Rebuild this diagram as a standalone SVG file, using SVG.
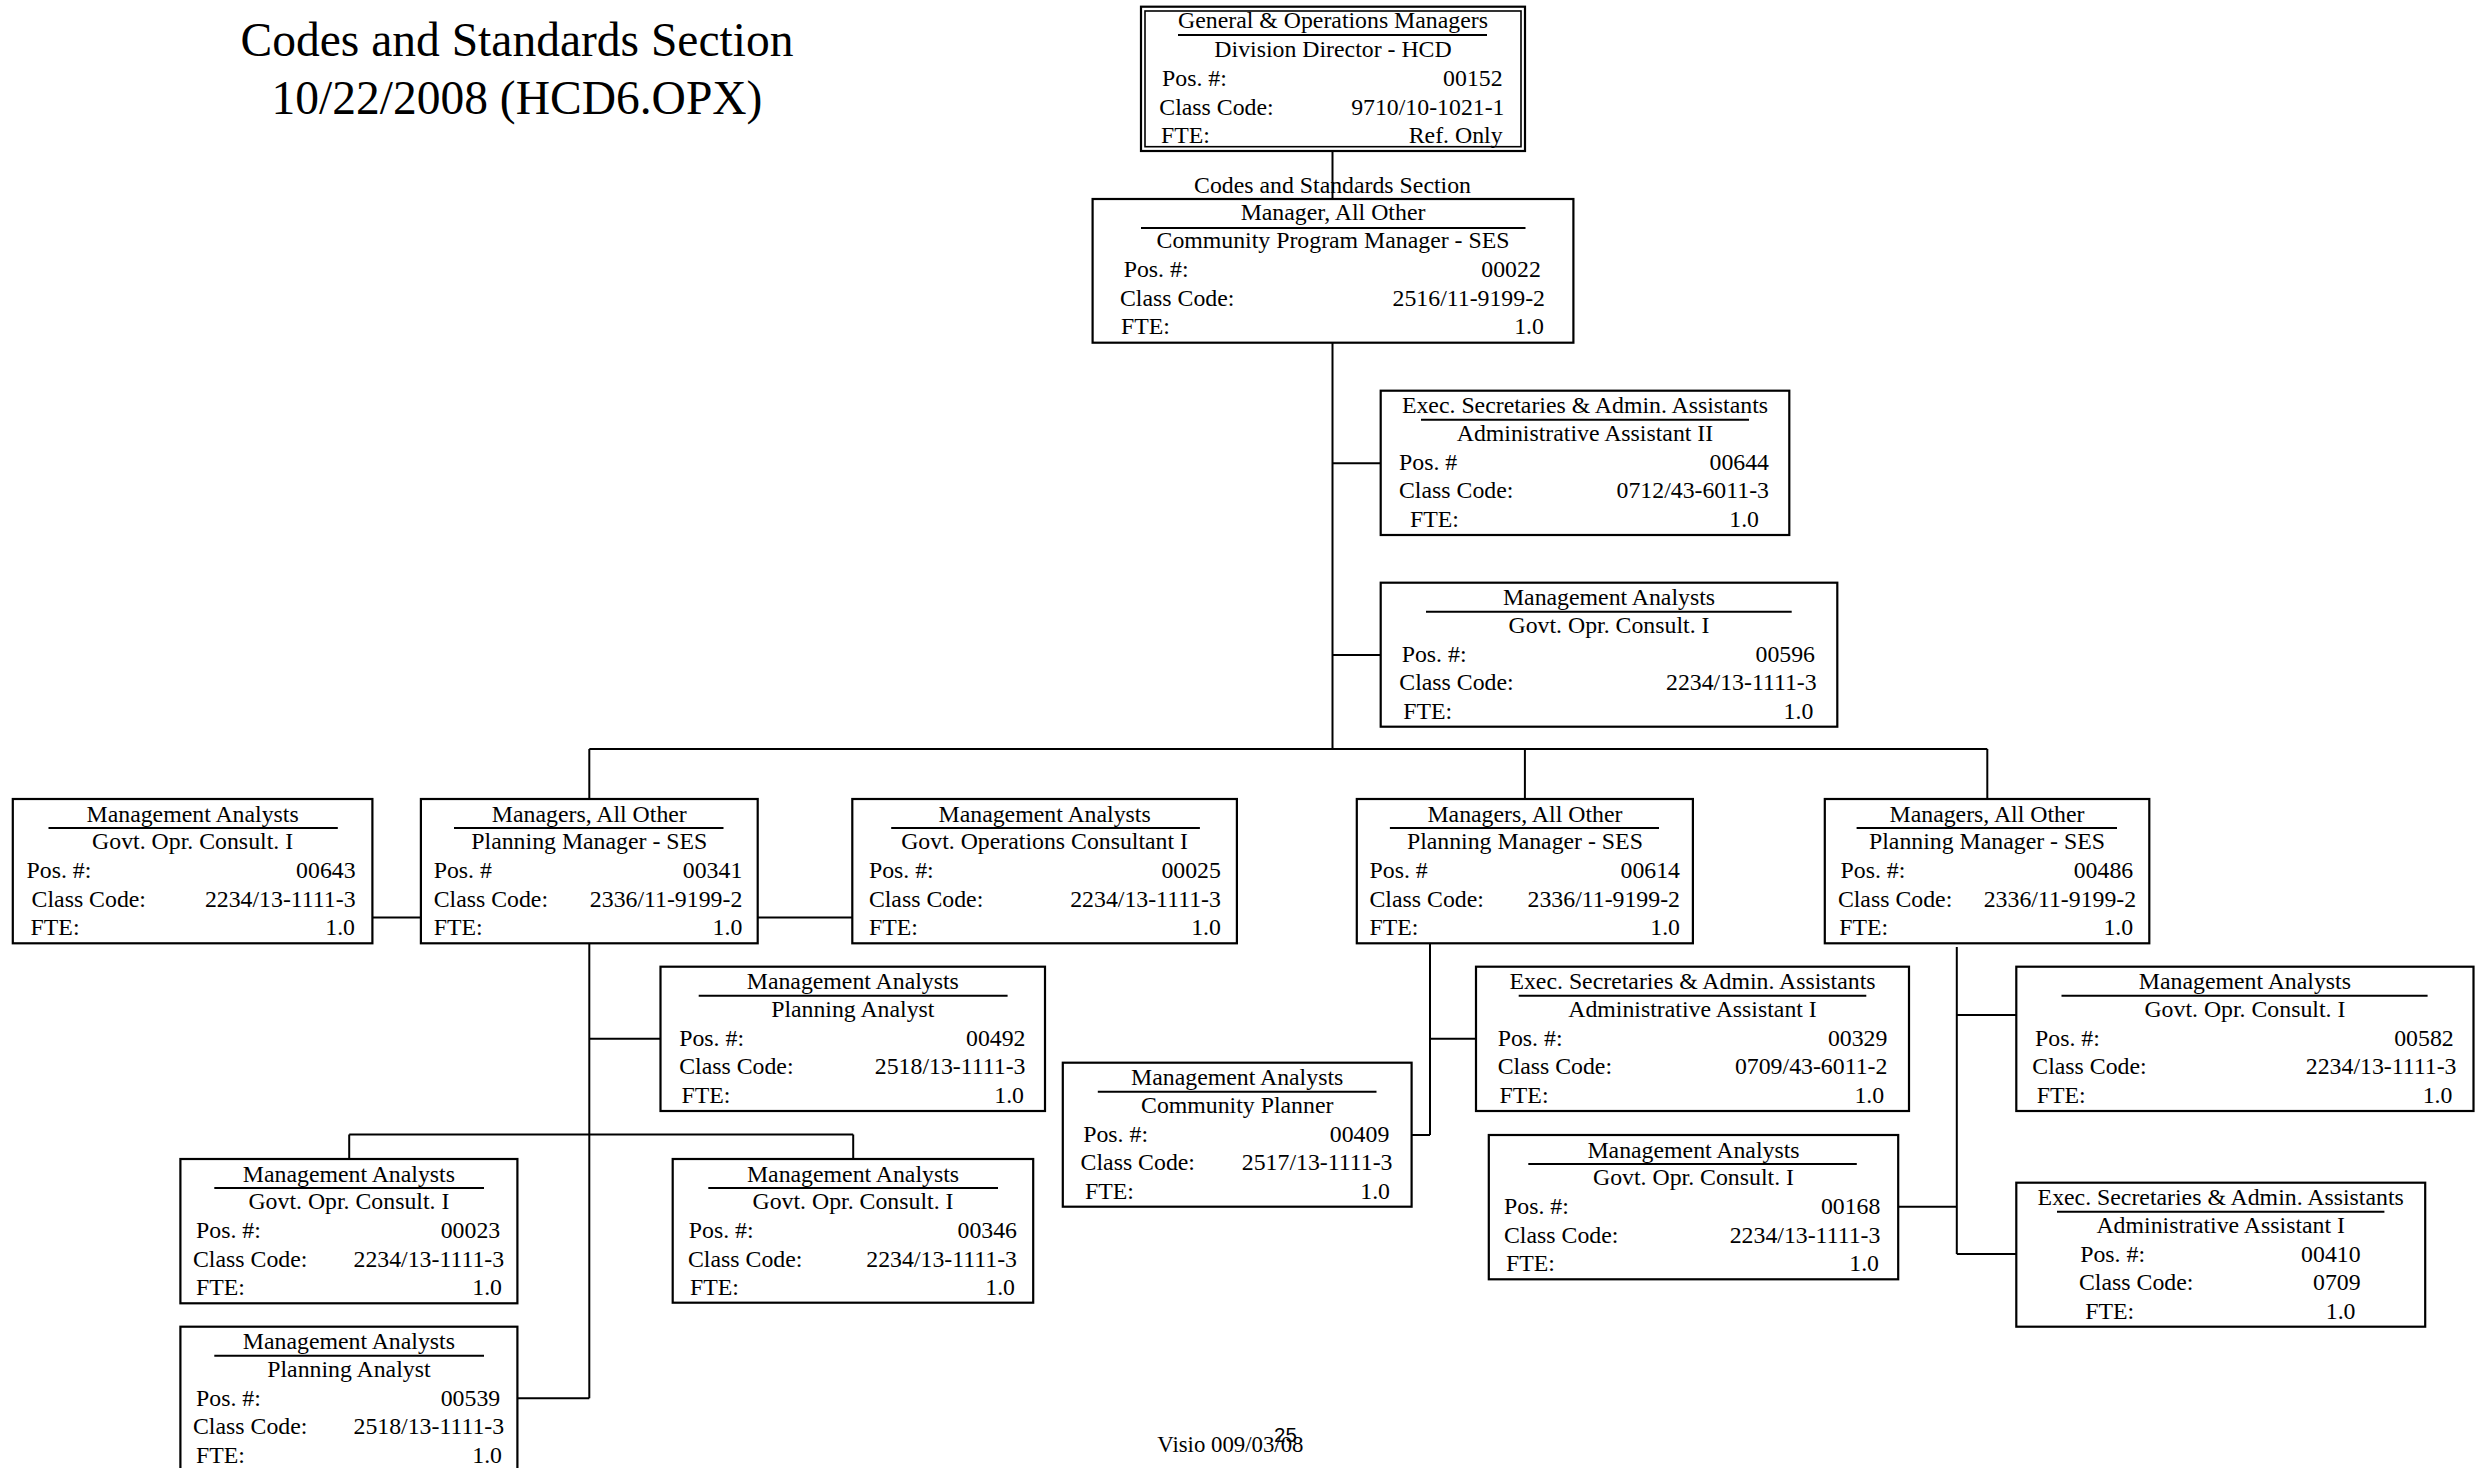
<svg xmlns="http://www.w3.org/2000/svg" width="2483" height="1468" viewBox="0 0 2483 1468">
<style>
  text { font-family: "Liberation Serif", "Times New Roman", serif; font-size: 23.8px; fill: #000; }
  .c { text-anchor: middle; }
  .e { text-anchor: end; }
  .box { fill: #fff; stroke: #000; stroke-width: 2.2; }
  .ul { stroke: #000; stroke-width: 2; }
  .wire { stroke: #000; stroke-width: 2; fill: none; }
  .head { font-size: 47.5px; }
  .pg { font-family: "Liberation Sans", Arial, sans-serif; font-size: 20.5px; }
</style>
<rect width="2483" height="1468" fill="#fff"/>

<!-- heading -->
<g id="heading">
  <text class="head c" x="517" y="56">Codes and Standards Section</text>
  <text class="head c" x="517" y="114">10/22/2008 (HCD6.OPX)</text>
</g>

<!-- reporting lines -->
<g id="connectors" class="wire">
  <path d="M1332.5 151V199"/>
  <path d="M1332.5 342.7V749"/>
  <path d="M1332.5 463.3H1380.7"/>
  <path d="M1332.5 655H1380.7"/>
  <path d="M589.3 749H1987.3"/>
  <path d="M589.3 749V799"/>
  <path d="M1524.9 749V799"/>
  <path d="M1987.3 749V799"/>
  <path d="M372.4 917.5H420.9"/>
  <path d="M757.7 917.5H852.3"/>
  <path d="M589.3 943.3V1398.3"/>
  <path d="M589.3 1038.7H660.5"/>
  <path d="M349.2 1134.5H853.2"/>
  <path d="M349.2 1134.5V1159"/>
  <path d="M853.2 1134.5V1159"/>
  <path d="M517.4 1398.3H589.3"/>
  <path d="M1430 943.3V1135"/>
  <path d="M1430 1038.7H1476"/>
  <path d="M1411.6 1135H1430"/>
  <path d="M1956.8 947V1254"/>
  <path d="M1956.8 1015H2022.4"/>
  <path d="M1898.2 1206.7H1956.8"/>
  <path d="M1956.8 1254H2016.3"/>
</g>

<!-- Division Director -->
<g id="n00152">
  <rect x="1141" y="6.7" width="384" height="144.3" fill="#fff" stroke="#000" stroke-width="2.2"/>
  <rect x="1145" y="11" width="376" height="135.7" fill="none" stroke="#000" stroke-width="1.6"/>
  <text class="c" x="1333" y="28">General &amp; Operations Managers</text>
  <line class="ul" x1="1178" y1="35" x2="1487" y2="35"/>
  <text class="c" x="1333" y="57">Division Director - HCD</text>
  <text x="1162" y="86">Pos. #:</text><text class="e" x="1502.6" y="86">00152</text>
  <text x="1159.3" y="115">Class Code:</text><text class="e" x="1504.5" y="115">9710/10-1021-1</text>
  <text x="1161" y="143">FTE:</text><text class="e" x="1502.6" y="143">Ref. Only</text>
</g>

<!-- Community Program Manager -->
<g id="n00022">
  <text class="c" x="1332.5" y="193">Codes and Standards Section</text>
  <rect class="box" x="1092.6" y="199" width="480.8" height="143.7"/>
  <text class="c" x="1333" y="220">Manager, All Other</text>
  <line class="ul" x1="1141" y1="228" x2="1525.5" y2="228"/>
  <text class="c" x="1333" y="248">Community Program Manager - SES</text>
  <text x="1123.7" y="277">Pos. #:</text><text class="e" x="1540.8" y="277">00022</text>
  <text x="1120" y="306">Class Code:</text><text class="e" x="1545" y="306">2516/11-9199-2</text>
  <text x="1121" y="334">FTE:</text><text class="e" x="1543.9" y="334">1.0</text>
</g>

<g id="n00644">
  <rect class="box" x="1380.7" y="390.7" width="408.6" height="144.3"/>
  <text class="c" x="1585" y="413.2">Exec. Secretaries &amp; Admin. Assistants</text>
  <line class="ul" x1="1421" y1="419.7" x2="1749" y2="419.7"/>
  <text class="c" x="1585" y="440.7">Administrative Assistant II</text>
  <text x="1399" y="469.7">Pos. #</text><text class="e" x="1769" y="469.7">00644</text>
  <text x="1399" y="498.2">Class Code:</text><text class="e" x="1769" y="498.2">0712/43-6011-3</text>
  <text x="1410" y="526.7">FTE:</text><text class="e" x="1759" y="526.7">1.0</text>
</g>

<g id="n00596">
  <rect class="box" x="1380.7" y="582.7" width="456.6" height="144"/>
  <text class="c" x="1609" y="605.2">Management Analysts</text>
  <line class="ul" x1="1426" y1="611.7" x2="1791.7" y2="611.7"/>
  <text class="c" x="1609" y="632.7">Govt. Opr. Consult. I</text>
  <text x="1401.7" y="661.7">Pos. #:</text><text class="e" x="1815" y="661.7">00596</text>
  <text x="1399.3" y="690.2">Class Code:</text><text class="e" x="1816.7" y="690.2">2234/13-1111-3</text>
  <text x="1403.3" y="718.7">FTE:</text><text class="e" x="1813.3" y="718.7">1.0</text>
</g>

<g id="n00643">
  <rect class="box" x="12.8" y="799" width="359.6" height="144.3"/>
  <text class="c" x="192.6" y="821.5">Management Analysts</text>
  <line class="ul" x1="48.5" y1="828" x2="337.8" y2="828"/>
  <text class="c" x="192.6" y="849">Govt. Opr. Consult. I</text>
  <text x="26.5" y="878">Pos. #:</text><text class="e" x="355.6" y="878">00643</text>
  <text x="31.6" y="906.5">Class Code:</text><text class="e" x="355.6" y="906.5">2234/13-1111-3</text>
  <text x="30.6" y="935">FTE:</text><text class="e" x="355" y="935">1.0</text>
</g>

<g id="n00341">
  <rect class="box" x="420.9" y="799" width="336.8" height="144.3"/>
  <text class="c" x="589.3" y="821.5">Managers, All Other</text>
  <line class="ul" x1="454" y1="828" x2="723.5" y2="828"/>
  <text class="c" x="589.3" y="849">Planning Manager - SES</text>
  <text x="433.7" y="878">Pos. #</text><text class="e" x="742.3" y="878">00341</text>
  <text x="433.7" y="906.5">Class Code:</text><text class="e" x="742.3" y="906.5">2336/11-9199-2</text>
  <text x="433.7" y="935">FTE:</text><text class="e" x="742.3" y="935">1.0</text>
</g>

<g id="n00025">
  <rect class="box" x="852.3" y="799" width="384.6" height="144.3"/>
  <text class="c" x="1044.6" y="821.5">Management Analysts</text>
  <line class="ul" x1="891.2" y1="828" x2="1199.9" y2="828"/>
  <text class="c" x="1044.6" y="849">Govt. Operations Consultant I</text>
  <text x="868.9" y="878">Pos. #:</text><text class="e" x="1220.9" y="878">00025</text>
  <text x="868.9" y="906.5">Class Code:</text><text class="e" x="1220.9" y="906.5">2234/13-1111-3</text>
  <text x="868.9" y="935">FTE:</text><text class="e" x="1220.9" y="935">1.0</text>
</g>

<g id="n00614">
  <rect class="box" x="1356.8" y="799" width="336.1" height="144.3"/>
  <text class="c" x="1524.9" y="821.5">Managers, All Other</text>
  <line class="ul" x1="1389.9" y1="828" x2="1659" y2="828"/>
  <text class="c" x="1524.9" y="849">Planning Manager - SES</text>
  <text x="1369.5" y="878">Pos. #</text><text class="e" x="1680" y="878">00614</text>
  <text x="1369.5" y="906.5">Class Code:</text><text class="e" x="1680" y="906.5">2336/11-9199-2</text>
  <text x="1369.5" y="935">FTE:</text><text class="e" x="1680" y="935">1.0</text>
</g>

<g id="n00486">
  <rect class="box" x="1824.8" y="799" width="324.5" height="144.3"/>
  <text class="c" x="1987" y="821.5">Managers, All Other</text>
  <line class="ul" x1="1856.6" y1="828" x2="2117" y2="828"/>
  <text class="c" x="1987" y="849">Planning Manager - SES</text>
  <text x="1840.5" y="878">Pos. #:</text><text class="e" x="2133.2" y="878">00486</text>
  <text x="1837.9" y="906.5">Class Code:</text><text class="e" x="2136.2" y="906.5">2336/11-9199-2</text>
  <text x="1839.2" y="935">FTE:</text><text class="e" x="2133.2" y="935">1.0</text>
</g>

<g id="n00492">
  <rect class="box" x="660.5" y="966.7" width="384.5" height="144.3"/>
  <text class="c" x="852.8" y="989.2">Management Analysts</text>
  <line class="ul" x1="698.7" y1="995.7" x2="1007.6" y2="995.7"/>
  <text class="c" x="852.8" y="1016.7">Planning Analyst</text>
  <text x="679.2" y="1045.7">Pos. #:</text><text class="e" x="1025.5" y="1045.7">00492</text>
  <text x="679.2" y="1074.2">Class Code:</text><text class="e" x="1025.5" y="1074.2">2518/13-1111-3</text>
  <text x="681.5" y="1102.7">FTE:</text><text class="e" x="1024" y="1102.7">1.0</text>
</g>

<g id="n00329">
  <rect class="box" x="1476" y="966.7" width="433" height="144.3"/>
  <text class="c" x="1692.5" y="989.2">Exec. Secretaries &amp; Admin. Assistants</text>
  <line class="ul" x1="1518.7" y1="995.7" x2="1866.3" y2="995.7"/>
  <text class="c" x="1692.5" y="1016.7">Administrative Assistant I</text>
  <text x="1497.7" y="1045.7">Pos. #:</text><text class="e" x="1887.4" y="1045.7">00329</text>
  <text x="1497.7" y="1074.2">Class Code:</text><text class="e" x="1887.4" y="1074.2">0709/43-6011-2</text>
  <text x="1499.6" y="1102.7">FTE:</text><text class="e" x="1884.2" y="1102.7">1.0</text>
</g>

<g id="n00582">
  <rect class="box" x="2016.3" y="966.7" width="457.2" height="144.3"/>
  <text class="c" x="2244.9" y="989.2">Management Analysts</text>
  <line class="ul" x1="2061.5" y1="995.7" x2="2427.6" y2="995.7"/>
  <text class="c" x="2244.9" y="1016.7">Govt. Opr. Consult. I</text>
  <text x="2035" y="1045.7">Pos. #:</text><text class="e" x="2453.7" y="1045.7">00582</text>
  <text x="2032.3" y="1074.2">Class Code:</text><text class="e" x="2456.5" y="1074.2">2234/13-1111-3</text>
  <text x="2036.7" y="1102.7">FTE:</text><text class="e" x="2452.4" y="1102.7">1.0</text>
</g>

<g id="n00409">
  <rect class="box" x="1062.8" y="1062.7" width="348.8" height="144"/>
  <text class="c" x="1237.2" y="1085.2">Management Analysts</text>
  <line class="ul" x1="1097.8" y1="1091.7" x2="1376.5" y2="1091.7"/>
  <text class="c" x="1237.2" y="1112.7">Community Planner</text>
  <text x="1083.2" y="1141.7">Pos. #:</text><text class="e" x="1389.3" y="1141.7">00409</text>
  <text x="1080.6" y="1170.2">Class Code:</text><text class="e" x="1392.5" y="1170.2">2517/13-1111-3</text>
  <text x="1085" y="1198.7">FTE:</text><text class="e" x="1390" y="1198.7">1.0</text>
</g>

<g id="n00168">
  <rect class="box" x="1488.8" y="1135" width="409.4" height="144.3"/>
  <text class="c" x="1693.5" y="1157.5">Management Analysts</text>
  <line class="ul" x1="1528.3" y1="1164" x2="1856.8" y2="1164"/>
  <text class="c" x="1693.5" y="1185">Govt. Opr. Consult. I</text>
  <text x="1504" y="1214">Pos. #:</text><text class="e" x="1880.4" y="1214">00168</text>
  <text x="1504" y="1242.5">Class Code:</text><text class="e" x="1880.4" y="1242.5">2234/13-1111-3</text>
  <text x="1506" y="1271">FTE:</text><text class="e" x="1879" y="1271">1.0</text>
</g>

<g id="n00023">
  <rect class="box" x="180.4" y="1159" width="337" height="144.3"/>
  <text class="c" x="348.9" y="1181.5">Management Analysts</text>
  <line class="ul" x1="214.3" y1="1188" x2="484" y2="1188"/>
  <text class="c" x="348.9" y="1209">Govt. Opr. Consult. I</text>
  <text x="196" y="1238">Pos. #:</text><text class="e" x="500.2" y="1238">00023</text>
  <text x="193" y="1266.5">Class Code:</text><text class="e" x="504.2" y="1266.5">2234/13-1111-3</text>
  <text x="196" y="1295">FTE:</text><text class="e" x="502" y="1295">1.0</text>
</g>

<g id="n00346">
  <rect class="box" x="672.7" y="1159" width="360.5" height="143.7"/>
  <text class="c" x="853" y="1181.5">Management Analysts</text>
  <line class="ul" x1="708.3" y1="1188" x2="998" y2="1188"/>
  <text class="c" x="853" y="1209">Govt. Opr. Consult. I</text>
  <text x="688.8" y="1238">Pos. #:</text><text class="e" x="1017" y="1238">00346</text>
  <text x="688" y="1266.5">Class Code:</text><text class="e" x="1017" y="1266.5">2234/13-1111-3</text>
  <text x="690" y="1295">FTE:</text><text class="e" x="1015" y="1295">1.0</text>
</g>

<g id="n00410">
  <rect class="box" x="2016.3" y="1182.7" width="408.9" height="144"/>
  <text class="c" x="2220.7" y="1205.2">Exec. Secretaries &amp; Admin. Assistants</text>
  <line class="ul" x1="2057" y1="1211.7" x2="2384.4" y2="1211.7"/>
  <text class="c" x="2220.7" y="1232.7">Administrative Assistant I</text>
  <text x="2080.2" y="1261.7">Pos. #:</text><text class="e" x="2360.6" y="1261.7">00410</text>
  <text x="2079" y="1290.2">Class Code:</text><text class="e" x="2360.6" y="1290.2">0709</text>
  <text x="2085.3" y="1318.7">FTE:</text><text class="e" x="2355.5" y="1318.7">1.0</text>
</g>

<g id="n00539">
  <rect class="box" x="180.4" y="1326.7" width="337" height="144"/>
  <text class="c" x="348.9" y="1349.2">Management Analysts</text>
  <line class="ul" x1="214.3" y1="1355.7" x2="484" y2="1355.7"/>
  <text class="c" x="348.9" y="1376.7">Planning Analyst</text>
  <text x="196" y="1405.7">Pos. #:</text><text class="e" x="500.2" y="1405.7">00539</text>
  <text x="193" y="1434.2">Class Code:</text><text class="e" x="504.2" y="1434.2">2518/13-1111-3</text>
  <text x="196" y="1462.7">FTE:</text><text class="e" x="502" y="1462.7">1.0</text>
</g>

<!-- page footer -->
<g id="footer">
  <text x="1157.3" y="1451.7" style="font-size:22.8px">Visio 009/03/08</text>
  <text class="pg" x="1274" y="1441.7">25</text>
</g>
</svg>
